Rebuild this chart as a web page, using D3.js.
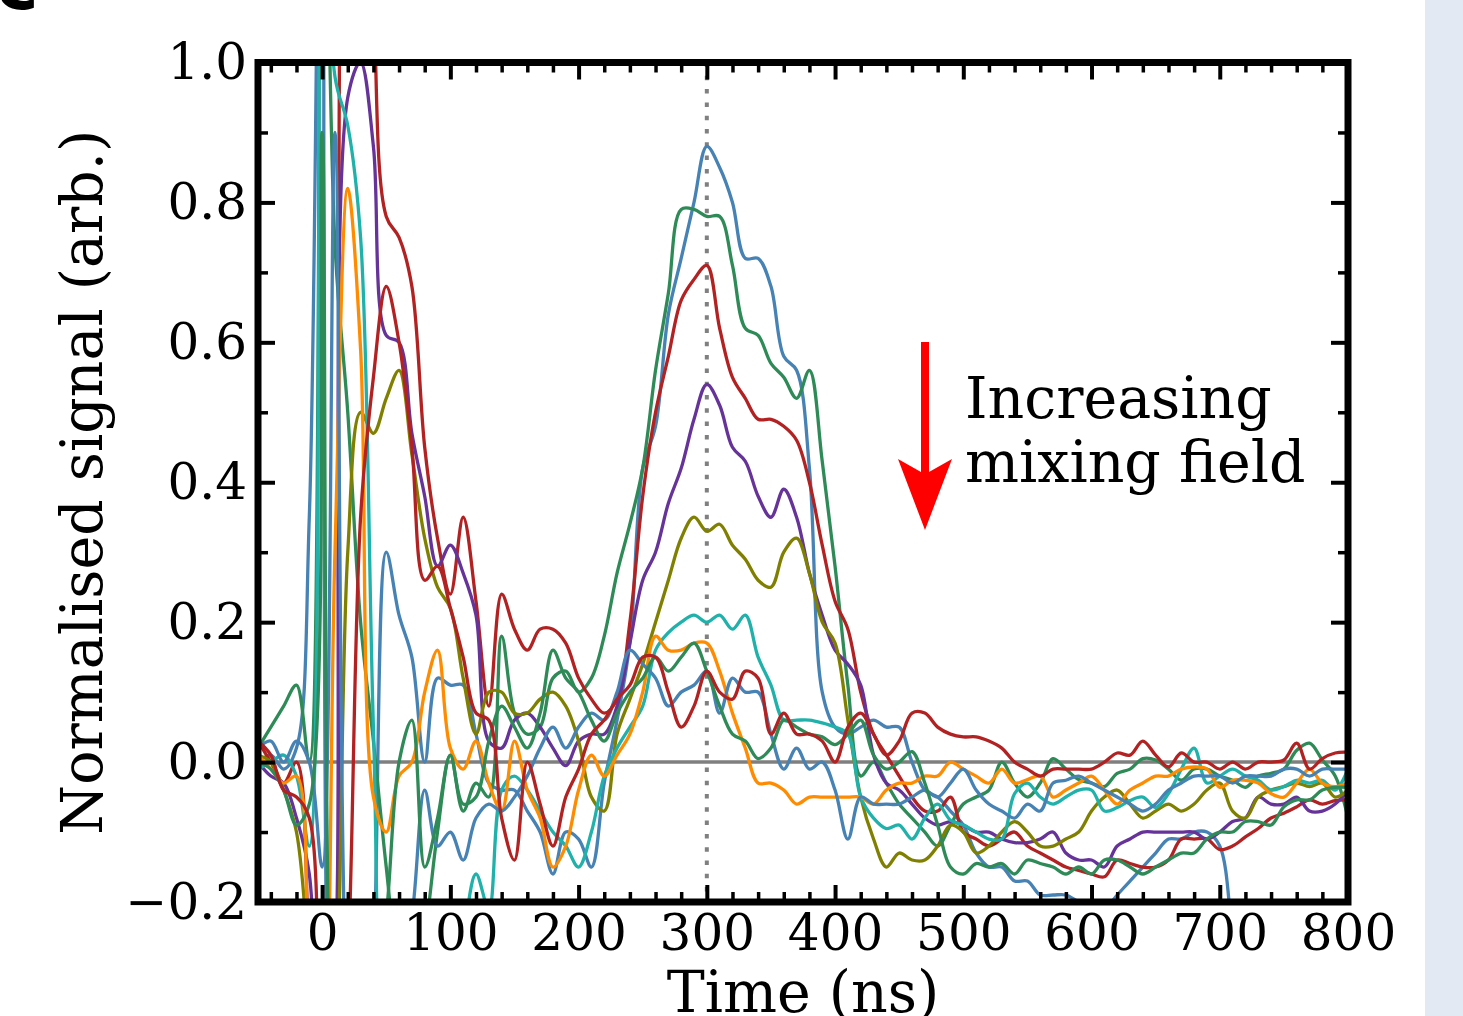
<!DOCTYPE html>
<html>
<head>
<meta charset="utf-8">
<script src="https://cdn.jsdelivr.net/npm/d3@7"></script>
<style>
  html, body { margin: 0; padding: 0; background: #fff; }
  svg { display: block; }
</style>
</head>
<body>
<svg width="1463" height="1016"></svg>
<script>
// time axis (ns), one sample every 10 ns
const times = d3.range(-50, 801, 10);

// normalised signal for each mixing field
const blueA = [
  0.00, 0.01, -0.01, 0.02, 0.35, 1.60, -0.70, -0.80, -0.60, -0.30,
  0.30, 0.21, 0.15, 0.00, 0.12, 0.11, 0.11, 0.04, -0.03, -0.04,
  -0.04, -0.07, -0.10, -0.16, -0.10, -0.11, -0.15, -0.03, 0.06, 0.17,
  0.42, 0.48, 0.64, 0.72, 0.80, 0.88, 0.85, 0.80, 0.72, 0.72,
  0.68, 0.58, 0.56, 0.42, 0.10, 0.05, 0.04, 0.05, 0.06, 0.05,
  0.05, 0.00, -0.04, -0.05, -0.07, -0.09, -0.13, -0.15, -0.15, -0.17,
  -0.17, -0.19, -0.19, -0.19, -0.20, -0.21, -0.21, -0.19, -0.17, -0.15,
  -0.13, -0.11, -0.11, -0.10, -0.10, -0.12, -0.25, -0.40, -0.50, -0.60,
  -0.65, -0.70, -0.75, -0.80, -0.85, -0.90
];
const greenA = [
  0.02, 0.05, 0.08, 0.11, 0.00, 1.50, 0.74, 0.50, 0.20, 0.03,
  -0.15, -0.30, -0.35, -0.25, -0.10, 0.01, -0.07, -0.03, -0.05, 0.18,
  0.07, 0.04, 0.05, 0.12, 0.13, 0.10, 0.12, 0.18, 0.27, 0.34,
  0.42, 0.56, 0.67, 0.79, 0.79, 0.78, 0.78, 0.71, 0.62, 0.61,
  0.57, 0.55, 0.52, 0.56, 0.43, 0.28, 0.11, -0.02, 0.00, -0.03,
  -0.06, -0.08, -0.10, -0.12, -0.09, -0.06, -0.05, -0.04, 0.00, -0.03,
  -0.05, -0.03, 0.005, -0.01, -0.025, -0.03, -0.035, -0.016, -0.01, 0.005,
  0.003, -0.01, -0.026, -0.01, -0.01, -0.02, -0.026, -0.036, -0.02, -0.016,
  -0.01, 0.017, 0.027, 0.003, -0.02, -0.08
];
const redA = [
  0.03, 0.00, -0.03, 0.00, -0.30, -0.80, -0.50, 1.50, 1.60, 1.10,
  0.78, 0.75, 0.68, 0.45, 0.32, 0.24, 0.35, 0.23, 0.08, 0.24,
  0.19, 0.16, 0.19, 0.19, 0.17, 0.12, 0.09, 0.07, 0.09, 0.20,
  0.38, 0.50, 0.58, 0.66, 0.69, 0.71, 0.62, 0.55, 0.52, 0.49,
  0.49, 0.48, 0.46, 0.40, 0.31, 0.23, 0.19, 0.10, 0.04, 0.01,
  -0.02, -0.05, -0.07, -0.07, -0.05, -0.10, -0.11, -0.12, -0.11, -0.10,
  -0.12, -0.13, -0.14, -0.15, -0.155, -0.16, -0.164, -0.14, -0.145, -0.15,
  -0.15, -0.14, -0.11, -0.11, -0.11, -0.125, -0.12, -0.107, -0.095, -0.08,
  -0.073, -0.064, -0.054, -0.06, -0.055, -0.054
];
const purple = [
  0.00, -0.02, -0.03, -0.08, -0.16, -0.50, -0.30, 0.95, 1.00, 0.88,
  0.61, 0.60, 0.47, 0.38, 0.28, 0.31, 0.27, 0.21, 0.03, 0.02,
  0.06, 0.07, 0.05, 0.02, -0.005, 0.03, 0.04, 0.04, 0.08, 0.17,
  0.26, 0.30, 0.37, 0.42, 0.49, 0.54, 0.51, 0.45, 0.43, 0.38,
  0.35, 0.39, 0.35, 0.27, 0.21, 0.16, 0.14, 0.11, 0.01, -0.03,
  -0.04, -0.06, -0.08, -0.09, -0.085, -0.09, -0.10, -0.10, -0.11, -0.115,
  -0.115, -0.11, -0.10, -0.13, -0.14, -0.14, -0.15, -0.12, -0.11, -0.10,
  -0.10, -0.10, -0.10, -0.10, -0.11, -0.10, -0.085, -0.08, -0.05, -0.06,
  -0.06, -0.05, -0.07, -0.07, -0.06, -0.04
];
const olive = [
  0.01, 0.00, -0.04, -0.10, -0.30, -0.60, -0.40, 0.30, 0.50, 0.47,
  0.52, 0.56, 0.44, 0.32, 0.25, 0.22, 0.12, 0.04, 0.10, 0.10,
  0.07, 0.07, 0.09, 0.10, 0.08, 0.03, -0.05, -0.07, 0.04, 0.09,
  0.14, 0.20, 0.26, 0.32, 0.35, 0.33, 0.34, 0.31, 0.29, 0.26,
  0.25, 0.30, 0.32, 0.27, 0.20, 0.17, 0.06, -0.05, -0.11, -0.15,
  -0.13, -0.14, -0.14, -0.12, -0.09, -0.10, -0.13, -0.12, -0.10, -0.085,
  -0.10, -0.12, -0.12, -0.11, -0.10, -0.07, -0.05, -0.04, -0.06, -0.08,
  -0.07, -0.06, -0.07, -0.06, -0.04, -0.03, -0.07, -0.08, -0.05, -0.04,
  -0.035, -0.03, -0.035, -0.03, -0.05, -0.04
];
const teal = [
  -0.01, 0.00, 0.01, -0.02, -0.12, 1.50, 0.98, 0.91, 0.75, 0.05,
  -0.45, -0.50, -0.50, -0.45, -0.40, -0.35, -0.25, -0.16, -0.21, -0.04,
  -0.02, -0.04, -0.07, -0.10, -0.12, -0.15, -0.10, -0.02, 0.02, 0.05,
  0.08, 0.16, 0.185, 0.20, 0.21, 0.20, 0.21, 0.19, 0.21, 0.15,
  0.11, 0.06, 0.06, 0.06, 0.056, 0.05, 0.04, -0.05, -0.08, -0.095,
  -0.09, -0.11, -0.08, -0.06, -0.083, -0.09, -0.10, -0.11, -0.11, -0.045,
  -0.03, -0.05, -0.06, -0.05, -0.04, -0.04, -0.07, -0.065, -0.055, -0.05,
  -0.065, -0.045, -0.01, 0.02, -0.03, -0.02, -0.01, -0.02, -0.026, -0.04,
  -0.035, -0.026, -0.03, -0.026, -0.04, -0.01
];
const orange = [
  0.01, -0.01, -0.03, -0.02, -0.35, -0.50, 0.30, 0.82, 0.59, -0.05,
  -0.10, -0.02, 0.00, 0.10, 0.16, 0.02, -0.01, 0.03, -0.03, -0.07,
  0.03, -0.04, -0.08, -0.15, -0.12, -0.04, 0.01, -0.02, 0.01, 0.04,
  0.10, 0.18, 0.16, 0.16, 0.17, 0.17, 0.13, 0.07, 0.02, -0.03,
  -0.03, -0.04, -0.06, -0.05, -0.05, -0.05, -0.05, -0.05, -0.06, -0.04,
  -0.03, -0.03, -0.02, -0.02, 0.00, -0.01, -0.02, -0.03, -0.01, -0.03,
  -0.025, -0.02, -0.05, -0.04, -0.03, -0.02, -0.04, -0.06, -0.04, -0.03,
  -0.02, -0.02, -0.01, -0.007, -0.01, -0.036, -0.026, -0.026, -0.03, -0.045,
  -0.05, -0.03, -0.01, -0.03, -0.035, -0.03
];
const blueB = [
  0.02, 0.03, 0.00, 0.03, 0.00, -0.15, 0.90, -0.40, -0.60, -0.50,
  -0.35, -0.30, -0.22, -0.04, -0.12, -0.10, -0.14, -0.08, -0.06, -0.07,
  -0.05, -0.02, 0.02, 0.05, 0.02, 0.05, 0.07, 0.06, 0.10, 0.16,
  0.14, 0.12, 0.08, 0.10, 0.11, 0.13, 0.07, 0.12, 0.10, 0.10,
  0.04, -0.01, 0.02, -0.01, 0.00, -0.04, -0.11, -0.05, -0.06, -0.06,
  -0.06, -0.05, -0.04, -0.05, -0.03, -0.01, -0.04, -0.06, -0.07, -0.08,
  -0.06, -0.07, -0.03, -0.026, -0.02, -0.03, -0.04, -0.05, -0.06, -0.07,
  -0.06, -0.04, -0.03, -0.02, -0.02, -0.02, -0.03, -0.02, -0.02, -0.02,
  -0.01, -0.01, -0.02, -0.01, -0.01, -0.01
];
const greenB = [
  0.00, -0.01, -0.04, -0.09, -0.06, 0.90, -0.50, -0.60, -0.50, -0.35,
  -0.22, 0.00, 0.06, -0.15, -0.08, 0.01, -0.06, -0.05, 0.03, 0.08,
  0.05, 0.02, 0.07, 0.16, 0.12, 0.10, 0.06, 0.03, 0.07, 0.10,
  0.12, 0.15, 0.13, 0.15, 0.17, 0.13, 0.08, 0.04, 0.03, 0.005,
  0.02, 0.06, 0.05, 0.04, 0.036, 0.025, 0.04, 0.06, 0.01, -0.01,
  0.00, 0.015, -0.03, -0.09, -0.15, -0.16, -0.145, -0.15, -0.145, -0.16,
  -0.14, -0.145, -0.15, -0.16, -0.15, -0.16, -0.14, -0.14, -0.15, -0.16,
  -0.15, -0.14, -0.13, -0.13, -0.11, -0.10, -0.10, -0.085, -0.085, -0.09,
  -0.064, -0.054, -0.054, -0.04, -0.036, -0.036
];
const redB = [
  0.03, 0.01, -0.04, -0.05, -0.08, -0.50, -0.60, -0.30, 0.35, 0.55,
  0.68, 0.60, 0.45, 0.26, 0.28, 0.22, 0.15, 0.07, 0.06, -0.08,
  -0.14, 0.00, -0.06, -0.12, -0.05, -0.01, 0.04, 0.06, 0.09, 0.11,
  0.15, 0.15, 0.10, 0.05, 0.08, 0.13, 0.10, 0.09, 0.13, 0.12,
  0.04, 0.07, 0.04, 0.04, 0.03, 0.00, 0.05, 0.07, 0.04, 0.01,
  0.03, 0.07, 0.07, 0.05, 0.04, 0.036, 0.036, 0.03, 0.02, 0.00,
  -0.01, -0.02, -0.01, -0.01, -0.01, -0.01, 0.00, 0.013, 0.01, 0.03,
  0.01, -0.007, 0.013, 0.0, 0.0, -0.01, 0.0, -0.01, 0.0, 0.0,
  0.003, 0.027, -0.01, 0.005, 0.013, 0.014
];

// drawing order follows the figure (largest peak first)
const SERIES = [blueA, greenA, redA, purple, olive, teal, orange, blueB, greenB, redB];
const COLORS = ['#4682b4', '#2e8b57', '#b22222', '#663399', '#808000',
                '#20b2aa', '#ff8c00', '#4682b4', '#2e8b57', '#b22222'];

const xMajor = [0, 100, 200, 300, 400, 500, 600, 700, 800];
const yMajor = [-0.2, 0, 0.2, 0.4, 0.6, 0.8, 1.0];

const SVG = d3.select('svg');
const LEFT = 258, RIGHT = 1348, TOP = 62.5, BOTTOM = 902;
const SERIF = 'DejaVu Serif, serif';

SVG.append('rect').attr('width', 1463).attr('height', 1016).style('fill', '#fff');
SVG.append('rect').attr('x', 1425).attr('y', 0).attr('width', 38).attr('height', 1016)
  .style('fill', '#e3e9f3');

// cut-off panel letter in the corner
SVG.append('text').attr('x', -4).attr('y', 9).text('c')
  .style('font-family', 'DejaVu Sans, sans-serif').style('font-weight', 'bold')
  .style('font-size', '72px');

const X_SCALE = d3.scaleLinear().domain([-50, 800]).range([LEFT, RIGHT]);
const Y_SCALE = d3.scaleLinear().domain([-0.2, 1.0]).range([BOTTOM, TOP]);

SVG.append('clipPath').attr('id', 'plotClip')
  .append('rect').attr('x', LEFT).attr('y', TOP)
  .attr('width', RIGHT - LEFT).attr('height', BOTTOM - TOP);

// reference lines
SVG.append('line')
  .attr('x1', LEFT).attr('x2', RIGHT)
  .attr('y1', Y_SCALE(0)).attr('y2', Y_SCALE(0))
  .style('stroke', '#000').style('stroke-opacity', 0.5).style('stroke-width', 3.5);
SVG.append('line')
  .attr('x1', X_SCALE(300)).attr('x2', X_SCALE(300))
  .attr('y1', TOP).attr('y2', BOTTOM)
  .style('stroke', '#808080').style('stroke-width', 4)
  .style('stroke-dasharray', '4.5,8.8');

// signal traces
const LINE = d3.line()
  .x((d, i) => X_SCALE(times[i]))
  .y(d => Y_SCALE(d))
  .curve(d3.curveCatmullRom.alpha(0.5));

const CHART = SVG.append('g').attr('id', 'chart').attr('clip-path', 'url(#plotClip)');
SERIES.forEach((vals, i) => {
  CHART.append('path')
    .attr('d', LINE(vals))
    .style('fill', 'none')
    .style('stroke', COLORS[i])
    .style('stroke-width', 3.3)
    .style('stroke-linejoin', 'round');
});

// axes: ticks point inward on all four sides
function styleAxis(g, major) {
  g.select('.domain').remove();
  g.selectAll('.tick line')
    .style('stroke', '#000')
    .style('stroke-width', major ? 4 : 3.5);
  g.selectAll('.tick text')
    .style('font-family', SERIF)
    .style('font-size', '50px')
    .style('fill', '#000');
}

const xMinor = d3.range(-40, 801, 20).filter(v => v % 100 !== 0);
const yMinor = [-0.1, 0.1, 0.3, 0.5, 0.7, 0.9];

const X_AXIS = d3.axisBottom(X_SCALE).tickValues(xMajor).tickSize(-17)
  .tickPadding(12).tickFormat(d3.format('d'));
SVG.append('g').attr('transform', `translate(0,${BOTTOM})`).call(X_AXIS).call(g => styleAxis(g, true));
SVG.append('g').attr('transform', `translate(0,${BOTTOM})`)
  .call(d3.axisBottom(X_SCALE).tickValues(xMinor).tickSize(-10).tickFormat(''))
  .call(g => styleAxis(g, false));
SVG.append('g').attr('transform', `translate(0,${TOP})`)
  .call(d3.axisTop(X_SCALE).tickValues(xMajor).tickSize(-17).tickFormat(''))
  .call(g => styleAxis(g, true));
SVG.append('g').attr('transform', `translate(0,${TOP})`)
  .call(d3.axisTop(X_SCALE).tickValues(xMinor).tickSize(-10).tickFormat(''))
  .call(g => styleAxis(g, false));

const Y_AXIS = d3.axisLeft(Y_SCALE).tickValues(yMajor).tickSize(-17)
  .tickPadding(11).tickFormat(d3.format('.1f'));
SVG.append('g').attr('transform', `translate(${LEFT},0)`).call(Y_AXIS).call(g => styleAxis(g, true));
SVG.append('g').attr('transform', `translate(${LEFT},0)`)
  .call(d3.axisLeft(Y_SCALE).tickValues(yMinor).tickSize(-10).tickFormat(''))
  .call(g => styleAxis(g, false));
SVG.append('g').attr('transform', `translate(${RIGHT},0)`)
  .call(d3.axisRight(Y_SCALE).tickValues(yMajor).tickSize(-17).tickFormat(''))
  .call(g => styleAxis(g, true));
SVG.append('g').attr('transform', `translate(${RIGHT},0)`)
  .call(d3.axisRight(Y_SCALE).tickValues(yMinor).tickSize(-10).tickFormat(''))
  .call(g => styleAxis(g, false));

// frame
SVG.append('rect')
  .attr('x', LEFT).attr('y', TOP)
  .attr('width', RIGHT - LEFT).attr('height', BOTTOM - TOP)
  .style('fill', 'none').style('stroke', '#000').style('stroke-width', 7);

// axis titles
SVG.append('text')
  .attr('transform', `translate(${(LEFT + RIGHT) / 2},1012)`)
  .style('text-anchor', 'middle')
  .style('font-family', SERIF).style('font-size', '57px')
  .text('Time (ns)');
SVG.append('text')
  .attr('transform', `translate(102,${(TOP + BOTTOM) / 2}) rotate(-90)`)
  .style('text-anchor', 'middle')
  .style('font-family', SERIF).style('font-size', '57px')
  .text('Normalised signal (arb.)');

// annotation arrow
SVG.append('path')
  .attr('d', 'M898,459 L921,472 L921,342 L929,342 L929,472 L952,459 L925,530 Z')
  .style('fill', '#ff0000');
const NOTE = SVG.append('text')
  .style('font-family', SERIF).style('font-size', '57px');
NOTE.append('tspan').attr('x', 965).attr('y', 418).text('Increasing');
NOTE.append('tspan').attr('x', 965).attr('y', 482).text('mixing field');
</script>
</body>
</html>
